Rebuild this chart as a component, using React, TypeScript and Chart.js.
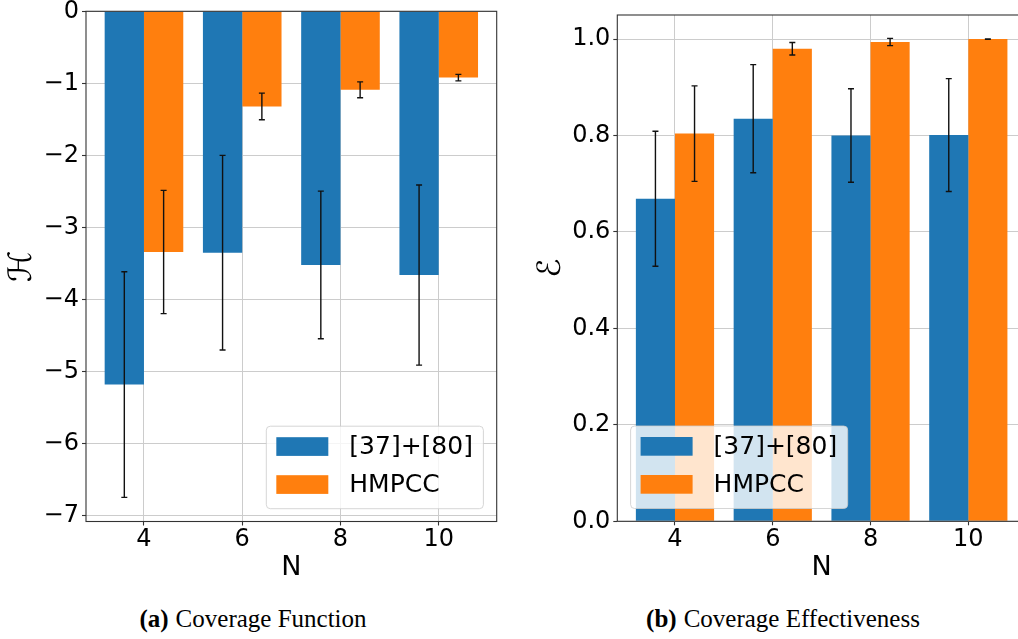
import React, { useEffect, useRef } from 'react';
import { Chart, registerables } from 'chart.js';

Chart.register(...registerables);
Chart.defaults.font.family = "'DejaVu Sans', sans-serif";
Chart.defaults.color = '#000';

// ---------- data ----------
const N_VALUES = [4, 6, 8, 10];
const SERIES_LABELS = ['[37]+[80]', 'HMPCC'];
const SERIES_COLORS = ['#1f77b4', '#ff7f0e'];

// Coverage function H (mean, std)
const H_BASELINE = [-5.18, -3.35, -3.52, -3.66];
const H_BASELINE_ERR = [1.565, 1.35, 1.025, 1.25];
const H_HMPCC = [-3.34, -1.32, -1.09, -0.92];
const H_HMPCC_ERR = [0.855, 0.185, 0.11, 0.045];

// Coverage effectiveness E (mean, std)
const E_BASELINE = [0.669, 0.835, 0.8, 0.801];
const E_BASELINE_ERR = [0.14, 0.112, 0.097, 0.117];
const E_HMPCC = [0.804, 0.98, 0.994, 1.0];
const E_HMPCC_ERR = [0.099, 0.013, 0.0075, 0.0005];

const X_TICKS = [4, 6, 8, 10];
const H_TICKS = [0, -1, -2, -3, -4, -5, -6, -7];
const E_TICKS = [0, 0.2, 0.4, 0.6, 0.8, 1.0];

const X_LIMITS = [2.82, 11.18];
const H_LIMITS = [-7.08, 0];
const E_LIMITS = [0, 1.05];

// ---------- plugins ----------
const framePlugin = {
  id: 'frameAndErrors',
  afterDatasetsDraw(chart: any) {
    const { ctx, chartArea } = chart;
    const yScale = chart.scales.y;
    ctx.save();
    // error bars
    ctx.strokeStyle = '#111';
    ctx.lineWidth = 1.4;
    chart.data.datasets.forEach((ds: any, di: number) => {
      const meta = chart.getDatasetMeta(di);
      meta.data.forEach((el: any, i: number) => {
        const v = ds.data[i].y;
        const e = ds.errors[i];
        const y1 = yScale.getPixelForValue(v - e);
        const y2 = yScale.getPixelForValue(v + e);
        const x = el.x;
        ctx.beginPath();
        ctx.moveTo(x, y1);
        ctx.lineTo(x, y2);
        ctx.moveTo(x - 3, y1);
        ctx.lineTo(x + 3, y1);
        ctx.moveTo(x - 3, y2);
        ctx.lineTo(x + 3, y2);
        ctx.stroke();
      });
    });
    // axes frame
    ctx.strokeStyle = '#333';
    ctx.lineWidth = 1.1;
    ctx.strokeRect(chartArea.left, chartArea.top, chartArea.right - chartArea.left, chartArea.bottom - chartArea.top);
    ctx.restore();
  },
};

const legendPlugin = {
  id: 'boxLegend',
  afterDraw(chart: any, _args: any, opts: any) {
    const { ctx, chartArea } = chart;
    const fontSize = 25;
    ctx.save();
    ctx.font = `${fontSize}px 'DejaVu Sans', sans-serif`;
    const labels = chart.data.datasets.map((d: any) => d.label);
    const textW = Math.max(...labels.map((l: string) => ctx.measureText(l).width));
    const padL = 10, handleW = 52, handleH = 18.7, gap = 21, padR = 10.5;
    const w = padL + handleW + gap + textW + padR;
    const h = 82.5;
    const margin = 13.3;
    const x0 = opts.corner === 'left' ? chartArea.left + margin : chartArea.right - margin - w;
    const y0 = chartArea.bottom - margin + 0.5 - h;
    // background
    const r = 4;
    ctx.beginPath();
    ctx.moveTo(x0 + r, y0);
    ctx.lineTo(x0 + w - r, y0);
    ctx.quadraticCurveTo(x0 + w, y0, x0 + w, y0 + r);
    ctx.lineTo(x0 + w, y0 + h - r);
    ctx.quadraticCurveTo(x0 + w, y0 + h, x0 + w - r, y0 + h);
    ctx.lineTo(x0 + r, y0 + h);
    ctx.quadraticCurveTo(x0, y0 + h, x0, y0 + h - r);
    ctx.lineTo(x0, y0 + r);
    ctx.quadraticCurveTo(x0, y0, x0 + r, y0);
    ctx.closePath();
    ctx.fillStyle = 'rgba(255,255,255,0.8)';
    ctx.fill();
    ctx.strokeStyle = 'rgba(204,204,204,0.8)';
    ctx.lineWidth = 1;
    ctx.stroke();
    chart.data.datasets.forEach((d: any, i: number) => {
      const hy = y0 + 11 + i * 38;
      ctx.fillStyle = d.backgroundColor;
      ctx.fillRect(x0 + padL, hy, handleW, handleH);
      ctx.fillStyle = '#000';
      ctx.textBaseline = 'middle';
      ctx.textAlign = 'left';
      ctx.fillText(d.label, x0 + padL + handleW + gap, hy + handleH / 2 + 1);
    });
    ctx.restore();
  },
};

// ---------- config ----------
interface PanelSpec {
  values: number[][];
  errors: number[][];
  yTicks: number[];
  yLimits: number[];
  yTitle: string;
  yTitlePad: number;
  yFormat: (v: number) => string;
  padding: { left: number; right: number; top: number; bottom: number };
  yAxisWidth: number;
  xAxisHeight: number;
  legendCorner: string;
}

function makeConfig(p: PanelSpec): any {
  return {
    type: 'bar',
    data: {
      datasets: p.values.map((vals, si) => ({
        label: SERIES_LABELS[si],
        data: N_VALUES.map((n, i) => ({ x: n, y: vals[i] })),
        errors: p.errors[si],
        backgroundColor: SERIES_COLORS[si],
        borderWidth: 0,
        categoryPercentage: 0.8,
        barPercentage: 1.0,
      })),
    },
    options: {
      responsive: false,
      animation: false,
      events: [],
      layout: { padding: p.padding },
      plugins: {
        legend: { display: false },
        tooltip: { enabled: false },
        boxLegend: { corner: p.legendCorner },
      },
      scales: {
        x: {
          type: 'linear',
          min: X_LIMITS[0],
          max: X_LIMITS[1],
          offset: false,
          afterBuildTicks: (s: any) => {
            s.ticks = X_TICKS.map((v) => ({ value: v }));
          },
          afterFit: (s: any) => {
            s.height = p.xAxisHeight;
            s.paddingLeft = 0;
            s.paddingRight = 0;
          },
          ticks: {
            font: { size: 24 },
            color: '#000',
            padding: 0,
            maxRotation: 0,
            autoSkip: false,
            callback: (v: number) => String(v),
          },
          grid: {
            offset: false,
            color: '#cccccc',
            lineWidth: 1,
            drawTicks: true,
            tickLength: 4,
            tickColor: '#333',
            tickWidth: 1.1,
          },
          border: { display: false },
          title: {
            display: true,
            text: 'N',
            font: { size: 27 },
            color: '#000',
            padding: { top: 0, bottom: 15.8 },
          },
        },
        y: {
          type: 'linear',
          min: p.yLimits[0],
          max: p.yLimits[1],
          afterBuildTicks: (s: any) => {
            s.ticks = p.yTicks.map((v) => ({ value: v }));
          },
          afterFit: (s: any) => {
            s.width = p.yAxisWidth;
            s.paddingTop = 0;
            s.paddingBottom = 0;
          },
          ticks: {
            font: { size: 24 },
            color: '#000',
            padding: 3,
            autoSkip: false,
            callback: (v: number) => p.yFormat(v),
          },
          grid: {
            color: '#cccccc',
            lineWidth: 1,
            drawTicks: true,
            tickLength: 4,
            tickColor: '#333',
            tickWidth: 1.1,
          },
          border: { display: false },
          title: {
            display: true,
            text: p.yTitle,
            font: { size: 32, family: "'DejaVu Sans', sans-serif" },
            color: '#000',
            padding: { top: p.yTitlePad, bottom: 0 },
          },
        },
      },
    },
    plugins: [framePlugin, legendPlugin],
  };
}

const minusFmt = (v: number) => (v < 0 ? '\u2212' + String(Math.abs(v)) : String(v));
const fixed1 = (v: number) => v.toFixed(1);

const LEFT_SPEC: PanelSpec = {
  values: [H_BASELINE, H_HMPCC],
  errors: [H_BASELINE_ERR, H_HMPCC_ERR],
  yTicks: H_TICKS,
  yLimits: H_LIMITS,
  yTitle: '\u210B',
  yTitlePad: 3,
  yFormat: minusFmt,
  padding: { left: 0, right: 13.3, top: 11.3, bottom: 0 },
  yAxisWidth: 86,
  xAxisHeight: 78.5,
  legendCorner: 'right',
};

const RIGHT_SPEC: PanelSpec = {
  values: [E_BASELINE, E_HMPCC],
  errors: [E_BASELINE_ERR, E_HMPCC_ERR],
  yTicks: E_TICKS,
  yLimits: E_LIMITS,
  yTitle: '\u2130',
  yTitlePad: 22,
  yFormat: fixed1,
  padding: { left: 0, right: 4, top: 15, bottom: 0 },
  yAxisWidth: 107.3,
  xAxisHeight: 78.7,
  legendCorner: 'left',
};

function Panel(props: { spec: PanelSpec; left: number; canvasWidth: number; clipWidth: number }) {
  const ref = useRef<HTMLCanvasElement>(null);
  useEffect(() => {
    const chart = new Chart(ref.current as HTMLCanvasElement, makeConfig(props.spec));
    return () => chart.destroy();
  }, []);
  return (
    <div
      style={{
        position: 'absolute',
        left: props.left,
        top: 0,
        width: props.clipWidth,
        height: 600,
        overflow: 'hidden',
      }}
    >
      <canvas
        ref={ref}
        width={props.canvasWidth}
        height={600}
        style={{ display: 'block', width: props.canvasWidth, height: 600 }}
      />
    </div>
  );
}

const captionStyle: React.CSSProperties = {
  position: 'absolute',
  top: 605,
  fontFamily: "'Liberation Serif', 'Times New Roman', serif",
  fontSize: 25,
  lineHeight: '28px',
  textAlign: 'center',
  color: '#000',
  whiteSpace: 'nowrap',
};

export default function App() {
  return (
    <div
      style={{
        position: 'fixed',
        left: 0,
        top: 0,
        width: 1018,
        height: 639,
        background: '#fff',
        overflow: 'hidden',
      }}
    >
      <Panel spec={LEFT_SPEC} left={0} canvasWidth={510} clipWidth={510} />
      <Panel spec={RIGHT_SPEC} left={510} canvasWidth={520} clipWidth={508} />
      <div style={{ ...captionStyle, left: 0, width: 506 }}>
        <b style={{ marginRight: 7 }}>(a)</b>Coverage Function
      </div>
      <div style={{ ...captionStyle, left: 548, width: 470 }}>
        <b style={{ marginRight: 7 }}>(b)</b>Coverage Effectiveness
      </div>
    </div>
  );
}
